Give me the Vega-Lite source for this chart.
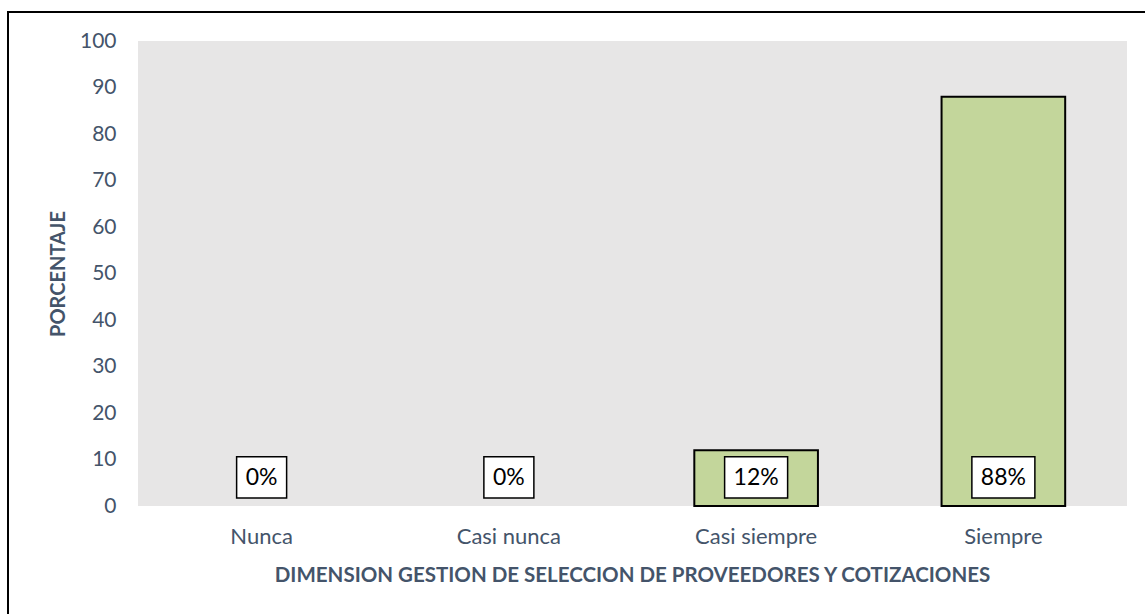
{
  "$schema": "https://vega.github.io/schema/vega-lite/v6.json",
  "width": 1145,
  "height": 606,
  "autosize": {"type": "none"},
  "padding": {"left": 8, "top": 12, "right": 0, "bottom": 0},
  "background": "white",
  "config": {
    "view": {"fill": "white", "stroke": "black", "strokeWidth": 2},
    "font": "Lato"
  },
  "data": {
    "values": [
      {"cat": "Nunca", "pct": 0, "label": "0%"},
      {"cat": "Casi nunca", "pct": 0, "label": "0%"},
      {"cat": "Casi siempre", "pct": 12, "label": "12%"},
      {"cat": "Siempre", "pct": 88, "label": "88%"}
    ]
  },
  "encoding": {
    "x": {
      "field": "cat",
      "type": "nominal",
      "sort": ["Nunca", "Casi nunca", "Casi siempre", "Siempre"],
      "scale": {"paddingInner": 0.5, "paddingOuter": 0.56547, "align": 0.68596, "round": false},
      "axis": {
        "title": "DIMENSION GESTION DE SELECCION DE PROVEEDORES Y COTIZACIONES",
        "offset": -112,
        "labelAngle": 0,
        "labelFont": "Lato",
        "labelFontSize": 22,
        "labelColor": "#44546a",
        "labelPadding": 20,
        "titleFont": "Lato",
        "titleFontSize": 20.5,
        "titleFontWeight": "bold",
        "titleColor": "#44546a",
        "titleX": 624,
        "titleY": 69,
        "titleAlign": "center",
        "titleBaseline": "middle",
        "domain": false,
        "ticks": false,
        "tickSize": 0,
        "grid": false
      }
    }
  },
  "layer": [
    {
      "mark": {"type": "rect", "fill": "#e7e6e6"},
      "encoding": {
        "x": {"datum": "Nunca", "bandPosition": -0.5},
        "x2": {"datum": "Siempre", "bandPosition": 1.5},
        "y": {
          "datum": 0,
          "type": "quantitative",
          "scale": {"domain": [-24.086, 106.237], "nice": false, "zero": false},
          "axis": {
            "title": "PORCENTAJE",
            "offset": -108,
            "values": [0, 10, 20, 30, 40, 50, 60, 70, 80, 90, 100],
            "labelFont": "Lato",
            "labelFontSize": 21,
            "labelColor": "#44546a",
            "labelPadding": 0,
            "titleFont": "Lato",
            "titleFontSize": 20,
            "titleFontWeight": "bold",
            "titleColor": "#44546a",
            "titleX": -58,
            "titleY": 261.5,
            "titleAlign": "center",
            "titleBaseline": "middle",
            "titleAngle": -90,
            "domain": false,
            "ticks": false,
            "tickSize": 0,
            "grid": false
          }
        },
        "y2": {"datum": 100}
      }
    },
    {
      "transform": [{"filter": "datum.pct > 0"}],
      "mark": {"type": "bar", "fill": "#c3d69b", "stroke": "black", "strokeWidth": 2},
      "encoding": {
        "y": {"field": "pct", "type": "quantitative"},
        "y2": {"datum": 0}
      }
    },
    {
      "transform": [{"filter": "datum.pct < 10"}],
      "mark": {"type": "bar", "width": 50, "fill": "white", "stroke": "black", "strokeWidth": 1.5},
      "encoding": {
        "y": {"datum": 1.7, "type": "quantitative"},
        "y2": {"datum": 10.6}
      }
    },
    {
      "transform": [{"filter": "datum.pct >= 10"}],
      "mark": {"type": "bar", "width": 63, "fill": "white", "stroke": "black", "strokeWidth": 1.5},
      "encoding": {
        "y": {"datum": 1.7, "type": "quantitative"},
        "y2": {"datum": 10.6}
      }
    },
    {
      "mark": {"type": "text", "font": "Lato", "fontSize": 23, "color": "black", "baseline": "middle", "align": "center"},
      "encoding": {
        "y": {"datum": 6.1, "type": "quantitative"},
        "text": {"field": "label"}
      }
    }
  ]
}
